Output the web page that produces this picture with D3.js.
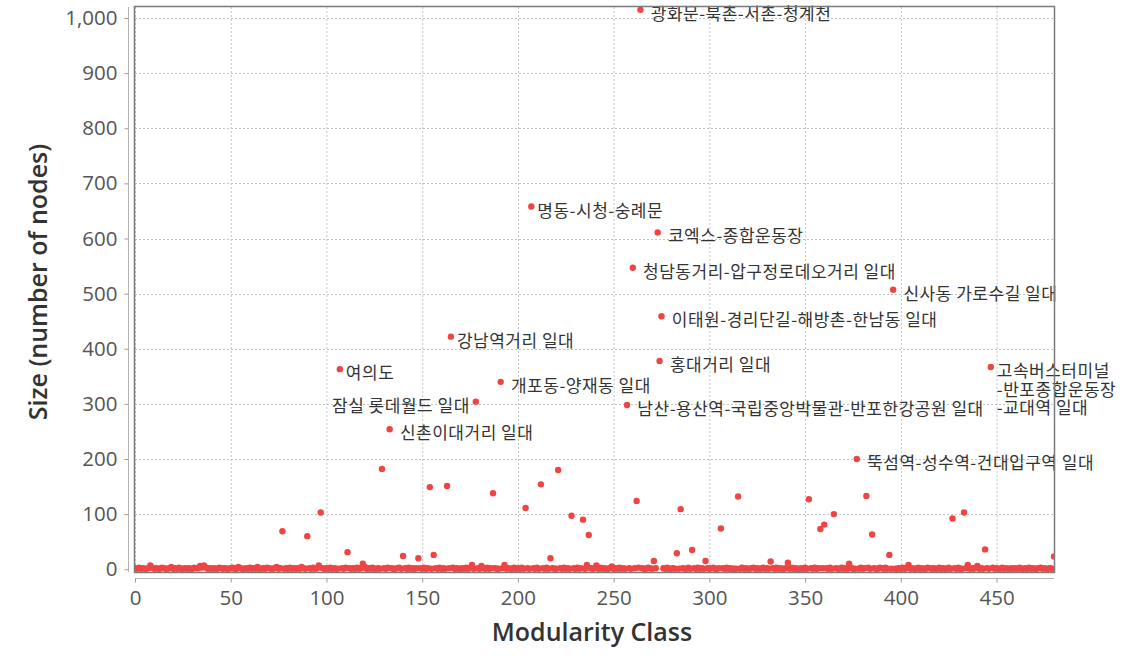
<!DOCTYPE html>
<html>
<head>
<meta charset="utf-8">
<script src="https://cdn.jsdelivr.net/npm/d3@7"></script>
<style>
  body { margin: 0; background: #fff; }
  svg { display: block; }
  .tick-label { font-family: "Open Sans", sans-serif; font-size: 20.5px; fill: #555; }
  .axis-title { font-family: "Open Sans", sans-serif; font-size: 25px; font-weight: 600; fill: #333; }
  .node-label { font-family: "Noto Sans CJK KR", sans-serif; font-size: 17px; letter-spacing: 0.5px; fill: #333; white-space: pre; }
</style>
</head>
<body>
<div id="chart"></div>
<script>
// small communities: size of every modularity class 0..480
const baseSizes = [
  2,1,3,1,2,1,1,2,7,3,1,2,1,1,3,2,1,1,2,4,
  1,2,1,3,1,1,2,1,2,1,1,3,2,2,6,3,7,3,1,2,
  1,2,1,1,3,2,1,2,1,1,2,3,1,1,4,2,1,1,2,1,
  3,1,2,1,4,1,1,2,1,3,2,1,1,2,4,1,2,1,1,2,
  1,3,1,2,1,2,1,4,2,1,1,2,1,3,1,2,7,1,2,1,
  2,1,3,1,2,1,1,1,2,1,3,1,2,1,2,1,3,1,2,10,
  4,1,2,1,3,1,1,2,1,1,2,1,3,1,2,1,1,2,3,1,
  1,2,1,3,1,2,1,2,1,2,1,3,1,2,1,1,1,2,1,3,
  1,2,1,1,2,1,3,1,2,1,1,2,1,3,1,2,8,1,1,2,
  1,6,2,1,3,1,2,1,2,1,1,3,2,8,1,2,1,1,3,1,
  2,1,3,1,1,2,1,1,2,1,3,1,1,2,1,3,1,1,2,1,
  1,1,2,1,3,1,2,1,1,2,1,3,1,2,1,1,8,1,2,1,
  2,7,1,3,1,2,1,1,2,5,1,2,1,3,1,2,1,1,2,1,
  1,2,1,3,1,2,1,1,3,2,1,1,2,1,1,1,2,1,3,1,
  1,2,1,3,1,1,2,1,1,3,1,1,2,1,3,1,2,1,1,2,
  1,2,3,1,1,2,1,2,1,3,1,2,1,1,1,2,1,3,1,2,
  1,1,2,3,1,2,1,1,3,1,2,1,1,2,1,3,1,2,1,1,
  2,12,1,3,1,2,1,1,2,1,3,1,1,2,1,3,1,2,1,2,
  1,2,1,3,1,1,2,1,1,3,1,2,1,10,3,1,1,2,1,3,
  1,2,1,3,1,1,2,1,1,3,2,1,3,1,2,1,2,1,1,2,
  1,3,1,2,8,1,2,1,1,3,1,2,1,1,3,2,1,2,1,1,
  3,1,2,1,1,3,1,1,2,1,3,1,1,1,2,8,1,2,1,3,
  6,1,2,1,1,2,1,1,3,1,2,1,1,3,1,2,1,1,2,1,
  2,1,3,1,1,2,1,3,1,2,1,1,2,3,1,2,1,1,2,1,
  1
];

// larger communities: [modularity class, size]
const bigClasses = [
  77, 90, 97, 107, 111, 129, 133, 140, 148, 154, 156, 163, 165, 178, 187, 191,
  204, 207, 212, 217, 221, 228, 234, 237, 257, 260, 262, 264, 271, 273, 274, 275,
  283, 285, 291, 298, 306, 315, 332, 352, 358, 360, 365, 377, 382, 385, 394, 396,
  427, 433, 444, 447, 480
];
const bigSizes = [
  69, 60, 103, 363, 31, 182, 254, 24, 20, 149, 26, 151, 422, 304, 138, 340,
  111, 658, 154, 20, 180, 97, 90, 62, 298, 547, 124, 1015, 15, 611, 378, 459,
  29, 109, 35, 15, 74, 132, 14, 127, 73, 81, 100, 200, 133, 63, 26, 507,
  92, 103, 36, 367, 23
];

// labelled communities
const labelClasses = [264, 207, 273, 260, 396, 275, 165, 274, 107, 447, 191, 178, 257, 133, 377];
const labelTexts = [
  " 광화문-북촌-서촌-청계천",
  "명동-시청-숭례문",
  " 코엑스-종합운동장",
  " 청담동거리-압구정로데오거리 일대",
  " 신사동 가로수길 일대",
  " 이태원-경리단길-해방촌-한남동 일대",
  "강남역거리 일대",
  " 홍대거리 일대",
  "여의도",
  "고속버스터미널\n-반포종합운동장\n-교대역 일대",
  " 개포동-양재동 일대",
  "잠실 롯데월드 일대",
  " 남산-용산역-국립중앙박물관-반포한강공원 일대",
  " 신촌이대거리 일대",
  " 뚝섬역-성수역-건대입구역 일대"
];
const leftLabels = ["잠실 롯데월드 일대"];

const xTicks = [0, 50, 100, 150, 200, 250, 300, 350, 400, 450];
const yTicks = [0, 100, 200, 300, 400, 500, 600, 700, 800, 900, 1000];

const W = 1126, H = 660;
const plot = { left: 135, right: 1054, top: 7, bottom: 572 };

const svg = d3.select("#chart").append("svg")
  .attr("width", W)
  .attr("height", H);

const x = d3.scaleLinear().domain([0, 480]).range([plot.left, plot.right]);
const y = d3.scaleLinear().domain([-5, 1020]).range([plot.bottom, plot.top]);

// build point list
const sizeByClass = new Map(bigClasses.map((c, i) => [c, bigSizes[i]]));
const points = baseSizes.map((s, c) => ({ cls: c, size: sizeByClass.has(c) ? sizeByClass.get(c) : s }));

svg.append("clipPath").attr("id", "plotClip")
  .append("rect")
  .attr("x", plot.left).attr("y", plot.top)
  .attr("width", plot.right - plot.left).attr("height", plot.bottom - plot.top);

// gridlines
const grid = svg.append("g").attr("stroke", "#c4c4c4").attr("stroke-width", 1).attr("stroke-dasharray", "2,2");
grid.selectAll(".gx").data(xTicks).join("line")
  .attr("x1", d => x(d) + 0.5).attr("x2", d => x(d) + 0.5)
  .attr("y1", plot.top).attr("y2", plot.bottom);
grid.selectAll(".gy").data(yTicks).join("line")
  .attr("x1", plot.left).attr("x2", plot.right)
  .attr("y1", d => Math.round(y(d)) + 0.5).attr("y2", d => Math.round(y(d)) + 0.5);

// points
svg.append("g").attr("clip-path", "url(#plotClip)")
  .selectAll("circle").data(points).join("circle")
  .attr("cx", d => x(d.cls))
  .attr("cy", d => y(d.size))
  .attr("r", 3.2)
  .attr("fill", "#f04444");

// labels
const labels = svg.append("g").attr("class", "labels");
labelClasses.forEach((c, i) => {
  const txt = labelTexts[i];
  const isLeft = leftLabels.includes(txt);
  const px = x(c), py = y(sizeByClass.get(c));
  const t = labels.append("text")
    .attr("class", "node-label")
    .attr("x", isLeft ? px - 6 : px + 6)
    .attr("y", py + 10)
    .attr("text-anchor", isLeft ? "end" : "start");
  txt.split("\n").forEach((line, j) => {
    t.append("tspan")
      .attr("x", isLeft ? px - 6 : px + 6)
      .attr("dy", j === 0 ? 0 : 18.7)
      .text(line);
  });
});

// plot border
svg.append("rect")
  .attr("x", plot.left - 0.5).attr("y", plot.top - 0.5)
  .attr("width", plot.right - plot.left + 1).attr("height", plot.bottom - plot.top + 1)
  .attr("fill", "none").attr("stroke", "#7a7a7a").attr("stroke-width", 1.5);

// y axis (offset to the left of the plot)
const yAxis = d3.axisLeft(y).tickValues(yTicks).tickFormat(d3.format(",")).tickSize(4).tickPadding(7);
const gy = svg.append("g").attr("transform", "translate(128.5,0)").call(yAxis);
gy.select(".domain").attr("stroke", "#b5b5b5").attr("d", `M0,${plot.top}V${plot.bottom}`);
gy.selectAll(".tick line").attr("stroke", "#999");
gy.selectAll(".tick text").attr("class", "tick-label").attr("font-family", null).attr("font-size", null).attr("fill", null);

// x axis (offset below the plot)
const xAxis = d3.axisBottom(x).tickValues(xTicks).tickSize(4).tickPadding(8);
const gx = svg.append("g").attr("transform", "translate(0,578.5)").call(xAxis);
gx.select(".domain").attr("stroke", "#b5b5b5").attr("d", `M${plot.left},0H${plot.right}`);
gx.selectAll(".tick line").attr("stroke", "#999");
gx.selectAll(".tick text").attr("class", "tick-label").attr("font-family", null).attr("font-size", null).attr("fill", null);

// axis titles
svg.append("text").attr("class", "axis-title")
  .attr("x", 592).attr("y", 641)
  .attr("text-anchor", "middle")
  .text("Modularity Class");

svg.append("text").attr("class", "axis-title")
  .attr("transform", "translate(47,282) rotate(-90)")
  .attr("text-anchor", "middle")
  .text("Size (number of nodes)");
</script>
</body>
</html>
